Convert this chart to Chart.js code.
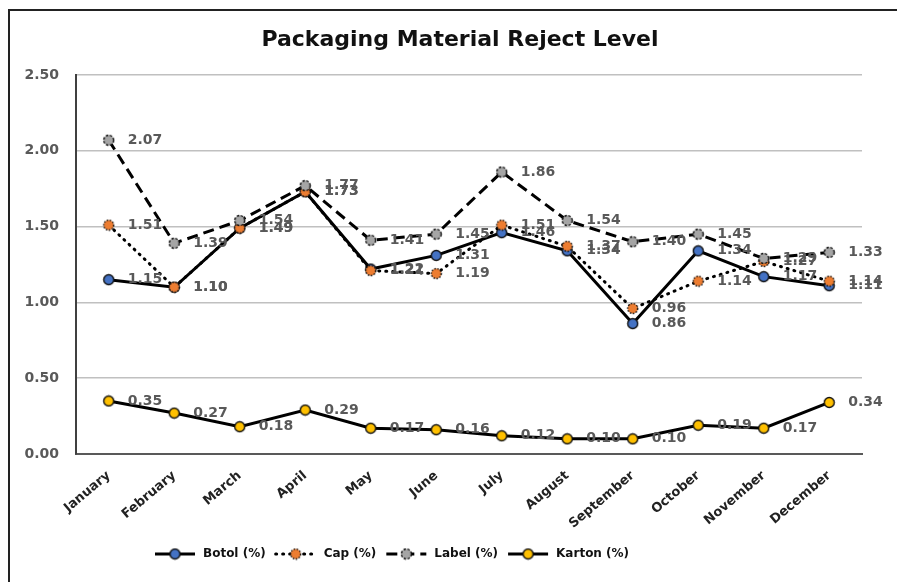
<!DOCTYPE html>
<html>
<head>
<meta charset="utf-8">
<script src="https://cdn.jsdelivr.net/npm/chart.js@4.4.0/dist/chart.umd.min.js"></script>
<style>
  body { margin: 0; background: #fff; overflow: hidden; }
</style>
</head>
<body>
<canvas id="myChart" width="897" height="582"></canvas>
<script>
var months = ['January', 'February', 'March', 'April', 'May', 'June', 'July', 'August', 'September', 'October', 'November', 'December'];
var botol = [1.15, 1.10, 1.49, 1.73, 1.22, 1.31, 1.46, 1.34, 0.86, 1.34, 1.17, 1.11];
var cap = [1.51, 1.10, 1.49, 1.73, 1.21, 1.19, 1.51, 1.37, 0.96, 1.14, 1.27, 1.14];
var label = [2.07, 1.39, 1.54, 1.77, 1.41, 1.45, 1.86, 1.54, 1.40, 1.45, 1.29, 1.33];
var karton = [0.35, 0.27, 0.18, 0.29, 0.17, 0.16, 0.12, 0.10, 0.10, 0.19, 0.17, 0.34];
var seriesNames = ['Botol (%)', 'Cap (%)', 'Label (%)', 'Karton (%)'];
var yTicks = [0, 0.5, 1.0, 1.5, 2.0, 2.5];
var chartTitle = 'Packaging Material Reject Level';

const FONT = '"DejaVu Sans", sans-serif';

// small marker pictures, used on the lines and in the legend
function makeMarker(fill, dash) {
    var c = document.createElement('canvas');
    c.width = 13; c.height = 13;
    var g = c.getContext('2d');
    g.beginPath();
    g.arc(6.5, 6.5, 5, 0, Math.PI * 2);
    g.fillStyle = fill;
    g.fill();
    g.lineWidth = 1.4;
    g.strokeStyle = '#111';
    if (dash) g.setLineDash(dash);
    g.stroke();
    return c;
}
var markers = [
    makeMarker('#4472C4', null),
    makeMarker('#ED7D31', [1.5, 1.5]),
    makeMarker('#A5A5A5', [2.5, 1.5]),
    makeMarker('#FFC000', null)
];
var dashes = [[], [1, 6], [11, 6], []];

function ds(name, values, i, order) {
    return {
        label: name,
        data: values,
        borderColor: '#000',
        borderWidth: 3,
        borderDash: dashes[i],
        borderCapStyle: i == 1 ? 'round' : 'butt',
        pointStyle: markers[i],
        pointRadius: 6,
        tension: 0,
        order: order
    };
}

// outer frame (left + top edges) and the title
const frameTitle = {
    id: 'frameTitle',
    beforeDraw(chart) {
        const ctx = chart.ctx;
        ctx.save();
        ctx.fillStyle = '#fff';
        ctx.fillRect(0, 0, chart.width, chart.height);
        ctx.strokeStyle = '#222';
        ctx.lineWidth = 2;
        ctx.beginPath();
        ctx.moveTo(9, chart.height);
        ctx.lineTo(9, 10);
        ctx.lineTo(chart.width, 10);
        ctx.stroke();
        ctx.font = 'bold 22px ' + FONT;
        ctx.fillStyle = '#111';
        ctx.textAlign = 'center';
        ctx.textBaseline = 'middle';
        ctx.fillText(chartTitle, 460, 40);
        ctx.restore();
    }
};

// value labels next to every point
const valueLabels = {
    id: 'valueLabels',
    afterDatasetsDraw(chart) {
        const ctx = chart.ctx;
        ctx.save();
        ctx.font = 'bold 14px ' + FONT;
        ctx.fillStyle = '#595959';
        ctx.textAlign = 'left';
        ctx.textBaseline = 'middle';
        chart.data.datasets.forEach((d, i) => {
            const meta = chart.getDatasetMeta(i);
            meta.data.forEach((p, k) => {
                ctx.fillText(d.data[k].toFixed(2), p.x + 19, p.y);
            });
        });
        ctx.restore();
    }
};

// legend: line sample with marker, then name
const lineLegend = {
    id: 'lineLegend',
    afterDraw(chart) {
        const ctx = chart.ctx;
        ctx.save();
        ctx.font = 'bold 12px ' + FONT;
        ctx.textBaseline = 'middle';
        let x = 155;
        const y = 554;
        chart.data.datasets.forEach((d, i) => {
            ctx.beginPath();
            ctx.setLineDash(d.borderDash);
            ctx.lineCap = d.borderCapStyle;
            ctx.lineWidth = 3;
            ctx.strokeStyle = '#000';
            ctx.moveTo(x, y);
            ctx.lineTo(x + 40, y);
            ctx.stroke();
            ctx.setLineDash([]);
            ctx.drawImage(markers[i], x + 20 - 6.5, y - 6.5);
            x += 48;
            ctx.fillStyle = '#111';
            ctx.fillText(d.label, x, y);
            x += ctx.measureText(d.label).width + 10;
        });
        ctx.restore();
    }
};

const config = {
    type: 'line',
    data: {
        labels: months,
        datasets: [
            ds(seriesNames[0], botol, 0, 4),
            ds(seriesNames[1], cap, 1, 3),
            ds(seriesNames[2], label, 2, 2),
            ds(seriesNames[3], karton, 3, 1)
        ]
    },
    options: {
        responsive: false,
        animation: false,
        layout: { padding: { left: 0, right: 35, top: 75, bottom: 0 } },
        plugins: {
            legend: { display: false },
            tooltip: { enabled: false },
            title: { display: false }
        },
        scales: {
            x: {
                offset: true,
                grid: { display: false, drawTicks: false },
                border: { display: true, color: '#595959', width: 2 },
                ticks: {
                    color: '#222',
                    font: { family: FONT, size: 13, weight: 'bold' },
                    maxRotation: 40,
                    minRotation: 40,
                    padding: 14
                },
                afterFit(scale) { scale.height = 128; }
            },
            y: {
                min: 0,
                max: 2.5,
                afterBuildTicks(scale) { scale.ticks = yTicks.map(v => ({ value: v })); },
                grid: { color: '#c0c0c0', lineWidth: 1.5, drawTicks: false },
                border: { display: true, color: '#404040', width: 2 },
                ticks: {
                    color: '#595959',
                    font: { family: FONT, size: 14, weight: 'bold' },
                    padding: 17,
                    callback: v => Number(v).toFixed(2)
                },
                afterFit(scale) { scale.width = 76; }
            }
        }
    },
    plugins: [frameTitle, valueLabels, lineLegend]
};
const myChart = new Chart(document.getElementById('myChart'), config);
</script>
</body>
</html>
